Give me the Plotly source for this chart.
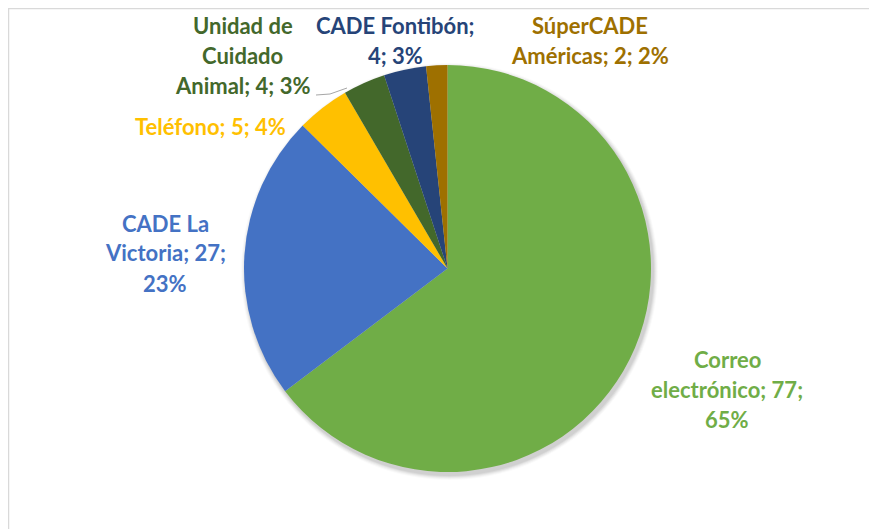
import plotly.graph_objects as go

# ---- data ----
categories = ["Correo electrónico", "CADE La Victoria", "Teléfono",
              "Unidad de Cuidado Animal", "CADE Fontibón", "SúperCADE Américas"]
values = [77, 27, 5, 4, 4, 2]
percent_labels = [65, 23, 4, 3, 3, 2]

# ---- styles / layout ----
colors = ["#70AD47", "#4472C4", "#FFC000", "#43682B", "#264478", "#9E7000"]
OFF = 8                      # page body margin of the browser
W, H = 877 - OFF, 529 - OFF
CX, CY, R = 447.5, 268.5, 203.5
FONT = "Lato, 'Open Sans', sans-serif"
FSIZE = 22
LINE_GAP = 30
# label anchor (pixel center of the first line, page coords) and words per line
label_pos = [(727, 359), (165, 223), (210, 126), (243, 25), (395, 25), (590, 25)]
label_wrap = [[1, 2, 1], [2, 2, 1], [3], [2, 1, 3], [2, 2], [1, 3]]


def px(x):
    return (x - OFF) / W


def py(y):
    return 1 - (y - OFF) / H


fig = go.Figure(go.Pie(
    labels=categories, values=values, sort=False, direction="clockwise",
    rotation=0, textinfo="none", hoverinfo="label+value+percent",
    marker=dict(colors=colors, line=dict(width=0)),
    domain=dict(x=[px(CX - R), px(CX + R)], y=[py(CY + R), py(CY - R)]),
    showlegend=False,
))

annotations = []
for cat, val, pct, col, (lx, ly), wrap in zip(categories, values, percent_labels,
                                               colors, label_pos, label_wrap):
    words = f"{cat}; {val}; {pct}%".split(" ")
    i = 0
    for k, n in enumerate(wrap):
        line = " ".join(words[i:i + n])
        i += n
        annotations.append(dict(
            x=px(lx), y=py(ly + k * LINE_GAP), xref="paper", yref="paper",
            text=f"<b>{line}</b>", showarrow=False, xanchor="center", yanchor="middle",
            font=dict(family=FONT, size=FSIZE, color=col)))

shapes = []
# soft shadow under the pie
for i, op in enumerate([0.05, 0.05, 0.04, 0.03, 0.02]):
    rr = R + 1 + i
    shapes.append(dict(type="circle", xref="paper", yref="paper", layer="below",
                       x0=px(CX + 2 - rr), x1=px(CX + 2 + rr),
                       y0=py(CY + 3 + rr), y1=py(CY + 3 - rr),
                       fillcolor=f"rgba(0,0,0,{op})", line=dict(width=0)))
# leader line for "Unidad de Cuidado Animal"
shapes.append(dict(type="path", xref="paper", yref="paper",
                   path=f"M {px(316)} {py(95)} L {px(330)} {py(94)} L {px(347)} {py(88)}",
                   line=dict(color="#A6A6A6", width=1)))
# chart frame
shapes.append(dict(type="rect", xref="paper", yref="paper",
                   x0=px(8.5), x1=px(W + 20), y0=py(H + 20), y1=py(8.5),
                   line=dict(color="#D9D9D9", width=1.5), fillcolor="rgba(0,0,0,0)"))

fig.update_layout(
    width=W, height=H, margin=dict(l=0, r=0, t=0, b=0),
    paper_bgcolor="white", plot_bgcolor="white",
    annotations=annotations, shapes=shapes,
)
fig.write_html("out.html")
